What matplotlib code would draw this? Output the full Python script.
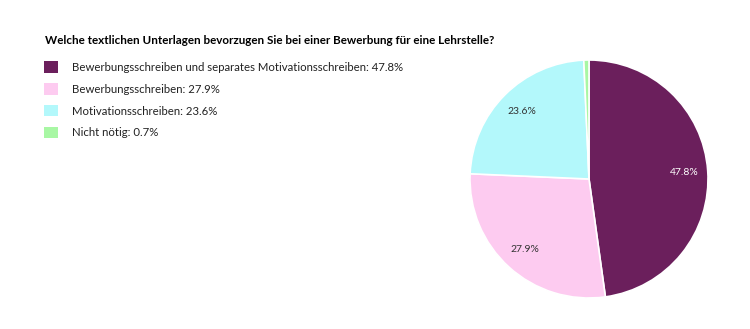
import matplotlib.pyplot as plt
from matplotlib.patches import Patch

plt.rcParams['font.family'] = ['Lato', 'DejaVu Sans']

title = "Welche textlichen Unterlagen bevorzugen Sie bei einer Bewerbung für eine Lehrstelle?"
labels = ["Bewerbungsschreiben und separates Motivationsschreiben",
          "Bewerbungsschreiben",
          "Motivationsschreiben",
          "Nicht nötig"]
values = [47.8, 27.9, 23.6, 0.7]
colors = ["#6b1f5c", "#fdcbf0", "#b3f8fb", "#a8f7a4"]
pct_colors = ["white", "#333333", "#333333", "#333333"]

fig = plt.figure(figsize=(7.5, 3.29), dpi=100)

# pie centred at (589, 179) px, radius 119 px
cx, cy, r = 589, 179, 119
ax = fig.add_axes([(cx - r) / 750, (329 - cy - r) / 329, 2 * r / 750, 2 * r / 329])
wedges, texts, autotexts = ax.pie(values, colors=colors, startangle=90, counterclock=False,
                                  autopct="%.1f%%", pctdistance=0.8,
                                  wedgeprops=dict(edgecolor="white", linewidth=1.2),
                                  textprops=dict(fontsize=7.5))
for t, c in zip(autotexts, pct_colors):
    t.set_color(c)
autotexts[-1].set_visible(False)
ax.set_xlim(-1, 1)
ax.set_ylim(-1, 1)
ax.set_aspect("equal")

fig.text(45 / 750, 1 - 40 / 329, title, fontsize=8.4, fontweight="bold", va="center", ha="left")

handles = [Patch(facecolor=c) for c in colors]
leg_labels = [f"{l}: {v}%" for l, v in zip(labels, values)]
fig.legend(handles, leg_labels, loc="upper left", bbox_to_anchor=(41 / 750, 1 - 58 / 329),
           frameon=False, fontsize=8.2, handlelength=1.2, handleheight=1.2,
           handletextpad=1.2, labelspacing=0.88, borderaxespad=0, borderpad=0.3,
           labelcolor="#222222")

fig.savefig("out.png", dpi=100)
